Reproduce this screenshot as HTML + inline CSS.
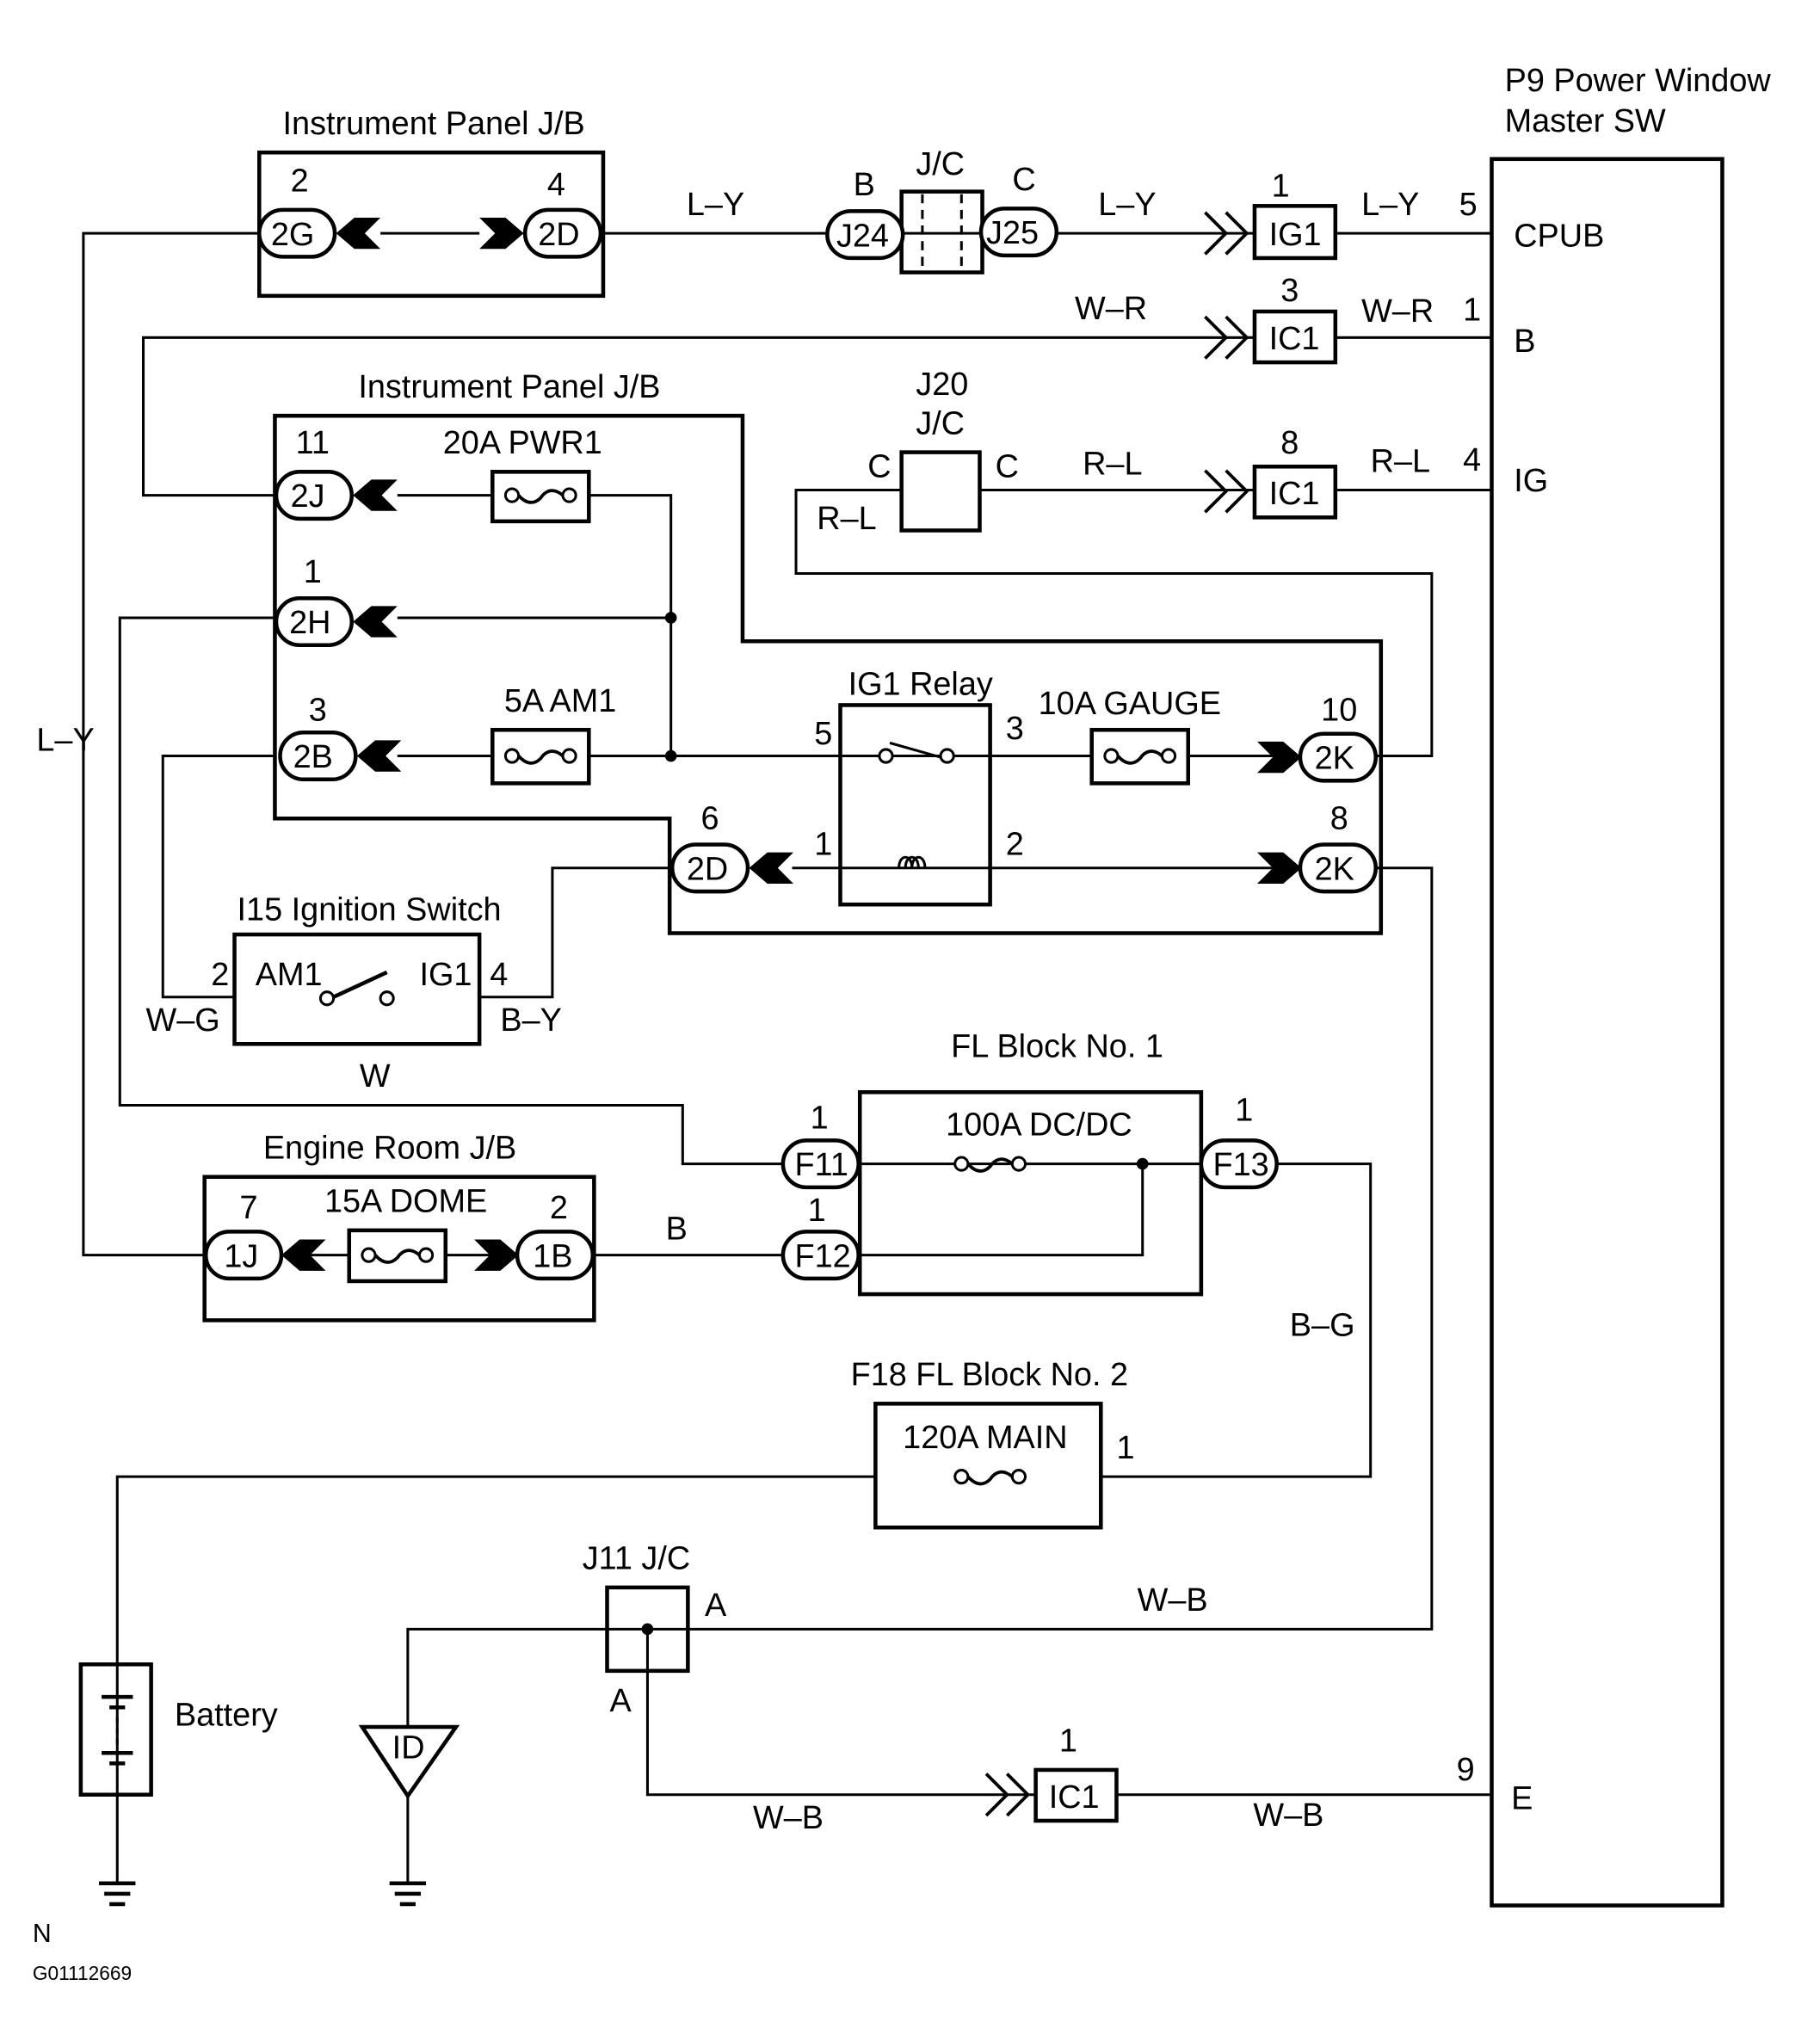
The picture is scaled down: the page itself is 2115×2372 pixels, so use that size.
<!DOCTYPE html>
<html><head><meta charset="utf-8"><style>
html,body{margin:0;padding:0;background:#fff}
svg{display:block}
text{font-family:"Liberation Sans",sans-serif;font-size:25px;fill:#000}
</style></head><body>
<svg width="2115" height="2372" viewBox="0 0 1397 1566" preserveAspectRatio="none" xmlns="http://www.w3.org/2000/svg">
<defs>
<g id="fz"><circle cx="-22" cy="0" r="5" fill="#fff" stroke="#000" stroke-width="2"/><circle cx="22" cy="0" r="5" fill="#fff" stroke="#000" stroke-width="2"/><path d="M-17,0 C-10,8 -4,6 0,2 C4,-4 10,-6 17,0" fill="none" stroke="#000" stroke-width="2.5"/></g>
<polygon id="chL" points="0,0 14,-12 34,-12 22,0 34,12 14,12" fill="#000"/>
<polygon id="chR" points="0,0 -14,-12 -34,-12 -22,0 -34,12 -14,12" fill="#000"/>
<path id="oc" d="M-38,-16 L-22,0 L-38,16 M-22,-16 L-6,0 L-22,16" fill="none" stroke="#000" stroke-width="2.5"/>
</defs>
<g fill="none" stroke="#000" stroke-width="2">
<polyline points="199,179 64,179 64,963 157,963"/>
<line x1="292" y1="179" x2="368" y2="179"/>
<line x1="463" y1="179" x2="635" y2="179"/>
<line x1="692" y1="179" x2="754" y2="179"/>
<line x1="811" y1="179" x2="963" y2="179"/>
<line x1="1025" y1="179" x2="1145" y2="179"/>
<polyline points="963,259 110,259 110,380 211,380"/>
<line x1="1025" y1="259" x2="1145" y2="259"/>
<line x1="305" y1="380" x2="378" y2="380"/>
<polyline points="452,380 515,380 515,580"/>
<line x1="305" y1="474" x2="515" y2="474"/>
<polyline points="211,474 92,474 92,848 524,848 524,893 600,893"/>
<polyline points="211,580 125,580 125,765 180,765"/>
<line x1="305" y1="580" x2="378" y2="580"/>
<line x1="452" y1="580" x2="838" y2="580"/>
<line x1="912" y1="580" x2="1000" y2="580"/>
<polyline points="1057,580 1099,580 1099,440 611,440 611,376 692,376"/>
<line x1="752" y1="376" x2="963" y2="376"/>
<line x1="1025" y1="376" x2="1145" y2="376"/>
<line x1="608" y1="666" x2="1000" y2="666"/>
<polyline points="1057,666 1099,666 1099,1250 313,1250 313,1325"/>
<polyline points="516,666 424,666 424,765 368,765"/>
<polyline points="660,893 922,893"/>
<polyline points="877,893 877,963 660,963"/>
<line x1="456" y1="963" x2="600" y2="963"/>
<polyline points="980,893 1052,893 1052,1133 845,1133"/>
<polyline points="672,1133 90,1133 90,1445"/>
<line x1="313" y1="1378" x2="313" y2="1445"/>
<polyline points="497,1250 497,1377 795,1377"/>
<line x1="857" y1="1377" x2="1145" y2="1377"/>
<line x1="215" y1="963" x2="268" y2="963"/>
<line x1="342" y1="963" x2="398" y2="963"/>
</g>
<g fill="none" stroke="#000" stroke-width="3">
<rect x="1145" y="122" width="177" height="1340"/>
<rect x="199" y="117" width="264" height="110"/>
<polygon points="211,319 570,319 570,492 1060,492 1060,716 514,716 514,628 211,628"/>
<rect x="692" y="147" width="62" height="62"/>
<rect x="963" y="158" width="62" height="40"/>
<rect x="963" y="239" width="62" height="39"/>
<rect x="963" y="358" width="62" height="39"/>
<rect x="692" y="347" width="60" height="60"/>
<rect x="378" y="362" width="74" height="38"/>
<rect x="378" y="560" width="74" height="41"/>
<rect x="838" y="560" width="74" height="41"/>
<rect x="645" y="541" width="115" height="153"/>
<rect x="180" y="717" width="188" height="84"/>
<rect x="660" y="838" width="262" height="155"/>
<rect x="157" y="903" width="299" height="110"/>
<rect x="268" y="944" width="74" height="39"/>
<rect x="672" y="1077" width="173" height="95"/>
<rect x="62" y="1277" width="54" height="100"/>
<rect x="466" y="1218" width="62" height="64"/>
<rect x="795" y="1358" width="62" height="39"/>
<polygon points="278,1325 350,1325 313,1378"/>
</g>
<g stroke="#000" stroke-width="2" stroke-dasharray="7,5"><line x1="708" y1="149" x2="708" y2="207"/><line x1="738" y1="149" x2="738" y2="207"/></g>
<g fill="#fff" stroke="#000" stroke-width="3">
<rect x="199" y="161" width="58" height="36" rx="18"/>
<rect x="403" y="161" width="58" height="36" rx="18"/>
<rect x="635" y="162" width="58" height="36" rx="18"/>
<rect x="753" y="160" width="58" height="36" rx="18"/>
<rect x="212" y="362" width="58" height="36" rx="18"/>
<rect x="212" y="459" width="58" height="36" rx="18"/>
<rect x="215" y="562" width="58" height="36" rx="18"/>
<rect x="998" y="563" width="58" height="36" rx="18"/>
<rect x="516" y="648" width="58" height="36" rx="18"/>
<rect x="998" y="648" width="58" height="36" rx="18"/>
<rect x="601" y="875" width="58" height="36" rx="18"/>
<rect x="601" y="945" width="58" height="36" rx="18"/>
<rect x="922" y="875" width="58" height="36" rx="18"/>
<rect x="158" y="945" width="58" height="36" rx="18"/>
<rect x="397" y="945" width="58" height="36" rx="18"/>
</g>
<use href="#chL" x="258" y="179"/><use href="#chR" x="402" y="179"/>
<use href="#chL" x="271" y="380"/><use href="#chL" x="271" y="477"/><use href="#chL" x="274" y="580"/>
<use href="#chR" x="999" y="581"/><use href="#chR" x="999" y="666"/><use href="#chL" x="575" y="666"/>
<use href="#chL" x="216" y="963"/><use href="#chR" x="398" y="963"/>
<use href="#oc" x="963" y="179"/><use href="#oc" x="963" y="259"/><use href="#oc" x="963" y="377"/><use href="#oc" x="795" y="1377"/>
<use href="#fz" x="415" y="380"/><use href="#fz" x="415" y="580"/><use href="#fz" x="875" y="580"/><use href="#fz" x="305" y="963"/>
<use href="#fz" x="760" y="893"/><use href="#fz" x="760" y="1133"/>
<circle cx="515" cy="474" r="4.5"/><circle cx="515" cy="580" r="4.5"/><circle cx="877" cy="893" r="4.5"/><circle cx="497" cy="1250" r="4.5"/>
<g stroke="#000" stroke-width="2" fill="#fff">
<line x1="683" y1="570" x2="722" y2="581"/>
<circle cx="680" cy="580" r="5"/><circle cx="727" cy="580" r="5"/>
<path d="M690,666 C690,655 700,655 700,666 M695,666 C695,655 705,655 705,666 M700,666 C700,655 710,655 710,666" fill="none"/>
<line x1="256" y1="765" x2="297" y2="746" stroke-width="3"/>
<circle cx="251" cy="766" r="5"/><circle cx="297" cy="766" r="5"/>
<line x1="78" y1="1302" x2="102" y2="1302" stroke-width="3"/>
<line x1="84" y1="1310" x2="96" y2="1310" stroke-width="3"/>
<line x1="78" y1="1345" x2="102" y2="1345" stroke-width="3"/>
<line x1="84" y1="1353" x2="96" y2="1353" stroke-width="3"/>
<line x1="90" y1="1318" x2="90" y2="1338" stroke-dasharray="4,4"/>
<line x1="76" y1="1445" x2="104" y2="1445" stroke-width="3"/><line x1="80" y1="1453" x2="100" y2="1453" stroke-width="3"/><line x1="84" y1="1461" x2="96" y2="1461" stroke-width="3"/>
<line x1="299" y1="1445" x2="327" y2="1445" stroke-width="3"/><line x1="303" y1="1453" x2="323" y2="1453" stroke-width="3"/><line x1="307" y1="1461" x2="319" y2="1461" stroke-width="3"/>
</g>
<text x="1155" y="70">P9 Power Window</text>
<text x="1155" y="101">Master SW</text>
<text x="1162" y="189">CPUB</text><text x="1162" y="270">B</text><text x="1162" y="377">IG</text><text x="1160" y="1388">E</text>
<text x="1120" y="165">5</text><text x="1123" y="246">1</text><text x="1123" y="361">4</text><text x="1118" y="1366">9</text>
<text x="217" y="103">Instrument Panel J/B</text>
<text x="223" y="147">2</text><text x="420" y="150">4</text>
<text x="208" y="188">2G</text><text x="413" y="188">2D</text>
<text x="527" y="165">L–Y</text><text x="843" y="165">L–Y</text><text x="1045" y="165">L–Y</text>
<text x="642" y="189">J24</text><text x="757" y="187">J25</text>
<text x="655" y="150">B</text><text x="703" y="134">J/C</text><text x="777" y="146">C</text>
<text x="976" y="151">1</text><text x="974" y="188">IG1</text>
<text x="825" y="245">W–R</text><text x="1045" y="247">W–R</text>
<text x="983" y="231">3</text><text x="974" y="268">IC1</text>
<text x="275" y="305">Instrument Panel J/B</text>
<text x="703" y="303">J20</text><text x="703" y="333">J/C</text>
<text x="666" y="366">C</text><text x="764" y="366">C</text><text x="627" y="406">R–L</text>
<text x="831" y="364">R–L</text><text x="1052" y="362">R–L</text>
<text x="983" y="348">8</text><text x="974" y="387">IC1</text>
<text x="227" y="348">11</text><text x="340" y="348">20A PWR1</text>
<text x="223" y="389">2J</text>
<text x="233" y="447">1</text><text x="222" y="486">2H</text>
<text x="237" y="553">3</text><text x="225" y="589">2B</text>
<text x="387" y="546">5A AM1</text>
<text x="651" y="533">IG1 Relay</text>
<text x="625" y="571">5</text><text x="772" y="567">3</text><text x="625" y="656">1</text><text x="772" y="656">2</text>
<text x="797" y="548">10A GAUGE</text>
<text x="1014" y="553">10</text><text x="1009" y="590">2K</text>
<text x="1021" y="636">8</text><text x="1009" y="675">2K</text>
<text x="538" y="636">6</text><text x="527" y="675">2D</text>
<text x="28" y="576">L–Y</text>
<text x="182" y="706">I15 Ignition Switch</text>
<text x="162" y="756">2</text><text x="196" y="756">AM1</text><text x="322" y="756">IG1</text><text x="376" y="756">4</text>
<text x="112" y="791">W–G</text><text x="384" y="791">B–Y</text><text x="276" y="834">W</text>
<text x="730" y="811">FL Block No. 1</text>
<text x="622" y="866">1</text><text x="610" y="902">F11</text>
<text x="620" y="937">1</text><text x="610" y="972">F12</text>
<text x="948" y="860">1</text><text x="931" y="902">F13</text>
<text x="726" y="871">100A DC/DC</text>
<text x="202" y="889">Engine Room J/B</text>
<text x="184" y="935">7</text><text x="249" y="930">15A DOME</text><text x="422" y="935">2</text>
<text x="172" y="972">1J</text><text x="409" y="972">1B</text>
<text x="511" y="951">B</text>
<text x="990" y="1025">B–G</text>
<text x="653" y="1063">F18 FL Block No. 2</text>
<text x="693" y="1111">120A MAIN</text><text x="857" y="1119">1</text>
<text x="134" y="1324">Battery</text>
<text x="447" y="1204">J11 J/C</text><text x="541" y="1240">A</text><text x="468" y="1313">A</text>
<text x="873" y="1236">W–B</text>
<text x="301" y="1349">ID</text>
<text x="813" y="1344">1</text><text x="805" y="1387">IC1</text>
<text x="578" y="1403">W–B</text><text x="962" y="1401">W–B</text>
<text x="25" y="1490" style="font-size:20px">N</text>
<text x="25" y="1519" style="font-size:15px">G01112669</text>
</svg>
</body></html>
